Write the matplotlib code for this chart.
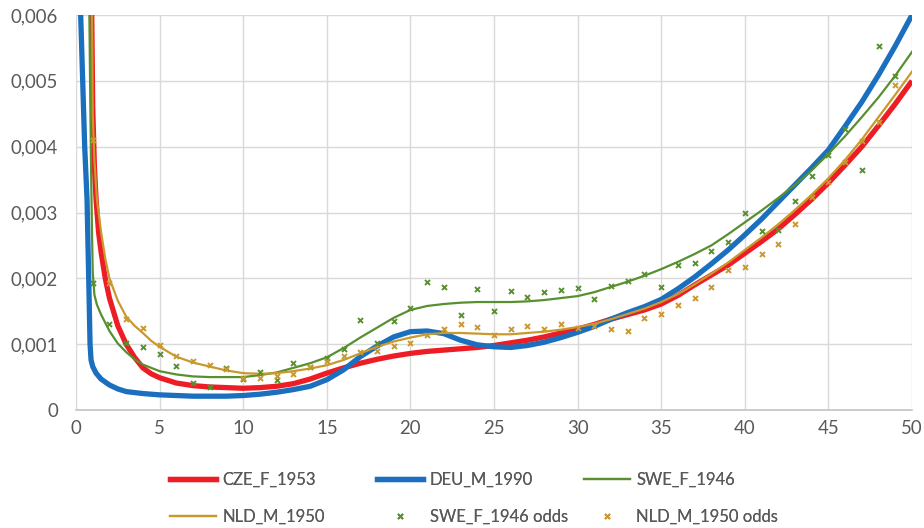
import matplotlib
matplotlib.use("Agg")
import matplotlib.pyplot as plt
from matplotlib.ticker import FuncFormatter, MultipleLocator
from matplotlib.lines import Line2D

plt.rcParams['font.family'] = ['Lato', 'DejaVu Sans']

# fitted curves (x, value)
cze_x = [0.9, 0.95, 1.0, 1.1, 1.2, 1.35, 1.5, 1.75, 2, 2.5, 3, 3.5, 4, 4.5, 5, 6, 7, 8, 9, 10,
         11, 12, 13, 14, 15, 16, 17, 18, 19, 20, 21, 22, 23, 24, 25, 26, 27, 28, 29, 30,
         31, 32, 33, 34, 35, 36, 37, 38, 39, 40, 41, 42, 43, 44, 45, 46, 47, 48, 49, 50]
cze_y = [0.0068, 0.0058, 0.0046, 0.0037, 0.0032, 0.0027, 0.0024, 0.0020, 0.0017, 0.00128, 0.0010,
         0.0008, 0.00064, 0.00055, 0.00049, 0.00041, 0.00037, 0.00035, 0.00034, 0.00033,
         0.00034, 0.00036, 0.0004, 0.00047, 0.00056, 0.00064, 0.00071, 0.00077, 0.00082, 0.00086,
         0.00089, 0.00091, 0.00093, 0.00095, 0.00098, 0.00102, 0.00106, 0.00111, 0.00117, 0.00123,
         0.0013, 0.00138, 0.00145, 0.00152, 0.00161, 0.00174, 0.0019, 0.00205, 0.0022, 0.00238,
         0.00256, 0.00275, 0.00297, 0.0032, 0.00345, 0.00372, 0.004, 0.00432, 0.00465, 0.005]

deu_x = [0.26, 0.28, 0.4, 0.52, 0.66, 0.76, 0.84, 0.9, 1.0, 1.2, 1.5, 2, 2.5, 3, 4, 5, 6, 7, 8, 9, 10,
         11, 12, 13, 14, 15, 16, 17, 18, 19, 20, 21, 22, 23, 24, 25, 26, 27, 28, 29, 30,
         31, 32, 33, 34, 35, 36, 37, 38, 39, 40, 41, 42, 43, 44, 45, 46, 47, 48, 49, 50]
deu_y = [0.0068, 0.006, 0.005, 0.004, 0.0032, 0.002, 0.001, 0.00076, 0.00066, 0.00056, 0.00047,
         0.00038, 0.00032, 0.00028, 0.00025, 0.00023, 0.00022, 0.00021, 0.00021, 0.00021, 0.00022,
         0.00024, 0.00027, 0.00031, 0.00036, 0.00046, 0.00061, 0.00081, 0.00097, 0.00111, 0.00119,
         0.0012, 0.00116, 0.00106, 0.00099, 0.00096, 0.00095, 0.00098, 0.00103, 0.0011, 0.00118,
         0.00127, 0.00138, 0.00148, 0.00157, 0.00168, 0.00184, 0.00202, 0.00222, 0.00243, 0.00266,
         0.0029, 0.00316, 0.00342, 0.00368, 0.00395, 0.00431, 0.00468, 0.00509, 0.00553, 0.006]

swe_x = [0.76, 0.8, 0.85, 0.9, 0.95, 1.0, 1.1, 1.25, 1.5, 2, 2.5, 3, 3.5, 4, 5, 6, 7, 8, 9, 10,
         11, 12, 13, 14, 15, 16, 17, 18, 19, 20, 21, 22, 23, 24, 25, 26, 27, 28, 29, 30,
         31, 32, 33, 34, 35, 36, 37, 38, 39, 40, 41, 42, 43, 44, 45, 46, 47, 48, 49, 50]
swe_y = [0.0068, 0.006, 0.0048, 0.0037, 0.0028, 0.0021, 0.00175, 0.0016, 0.00145, 0.0012, 0.00101,
         0.00088, 0.00077, 0.00069, 0.00059, 0.00054, 0.00051, 0.0005, 0.0005, 0.0005,
         0.00053, 0.00057, 0.00064, 0.00071, 0.0008, 0.00094, 0.0011, 0.00125, 0.0014, 0.00152,
         0.00158, 0.00161, 0.00163, 0.00164, 0.00164, 0.00164, 0.00165, 0.00167, 0.0017, 0.00173,
         0.00179, 0.00187, 0.00195, 0.00204, 0.00214, 0.00225, 0.00237, 0.0025, 0.00267, 0.00285,
         0.00303, 0.00322, 0.00342, 0.00364, 0.00389, 0.00416, 0.00445, 0.00475, 0.00508, 0.00544]

nld_x = [0.92, 0.97, 1.0, 1.1, 1.25, 1.5, 1.75, 2, 2.5, 3, 3.5, 4, 4.5, 5, 6, 7, 8, 9, 10,
         11, 12, 13, 14, 15, 16, 17, 18, 19, 20, 21, 22, 23, 24, 25, 26, 27, 28, 29, 30,
         31, 32, 33, 34, 35, 36, 37, 38, 39, 40, 41, 42, 43, 44, 45, 46, 47, 48, 49, 50]
nld_y = [0.0068, 0.0057, 0.0045, 0.0038, 0.0032, 0.0027, 0.0023, 0.002, 0.00166, 0.00142, 0.00128,
         0.00117, 0.00105, 0.00096, 0.00081, 0.00072, 0.00066, 0.0006, 0.00056,
         0.00055, 0.00056, 0.00059, 0.00063, 0.00068, 0.00076, 0.00086, 0.00096, 0.00104, 0.0011,
         0.00115, 0.00117, 0.00117, 0.00116, 0.00115, 0.00115, 0.00117, 0.00119, 0.00122, 0.00126,
         0.00131, 0.00138, 0.00146, 0.00154, 0.00164, 0.00176, 0.00191, 0.00207, 0.00224, 0.00243,
         0.00262, 0.00282, 0.00304, 0.00327, 0.00352, 0.0038, 0.00411, 0.00445, 0.00479, 0.00514]

# observed odds, ages 1..49
ages = list(range(1, 50))
swe_odds = [0.00193, 0.00131, 0.00102, 0.00096, 0.00085, 0.00067, 0.00041, 0.00035, 0.00064, 0.00047,
            0.00058, 0.00046, 0.00071, 0.00066, 0.00079, 0.00093, 0.00137, 0.00102, 0.00135, 0.00155,
            0.00195, 0.00187, 0.00144, 0.00184, 0.0015, 0.00181, 0.00172, 0.0018, 0.00182, 0.00186,
            0.00168, 0.00188, 0.00196, 0.00207, 0.00187, 0.0022, 0.00224, 0.00242, 0.00255, 0.003,
            0.00272, 0.00273, 0.00318, 0.00355, 0.00388, 0.00427, 0.00365, 0.00553, 0.00508]
nld_odds = [0.0041, 0.00193, 0.00138, 0.00125, 0.00099, 0.00082, 0.00075, 0.00069, 0.00063, 0.00048,
            0.00049, 0.00052, 0.00055, 0.00066, 0.00074, 0.00082, 0.00088, 0.00089, 0.00097, 0.00102,
            0.00114, 0.00123, 0.0013, 0.00126, 0.00114, 0.00123, 0.00128, 0.00123, 0.0013, 0.00125,
            0.00127, 0.00123, 0.0012, 0.0014, 0.00146, 0.0016, 0.0017, 0.00187, 0.00213, 0.00217,
            0.00237, 0.00252, 0.00283, 0.00324, 0.00347, 0.00377, 0.00409, 0.00438, 0.00494]

RED = '#EE1C25'
BLUE = '#1A6FBE'
GREEN = '#58902F'
GOLD = '#C9992E'
TXT = '#595959'

fig = plt.figure(figsize=(9.24, 5.28), dpi=100)
ax = fig.add_axes([76 / 924, 1 - 410 / 528, (912 - 76) / 924, (410 - 15) / 528])

ax.plot(cze_x, cze_y, color=RED, lw=3.8, solid_capstyle='butt', zorder=3)
ax.plot(deu_x, deu_y, color=BLUE, lw=3.8, solid_capstyle='butt', zorder=4)
ax.plot(swe_x, swe_y, color=GREEN, lw=1.6, zorder=5)
ax.plot(nld_x, nld_y, color=GOLD, lw=1.6, zorder=6)
ax.plot(ages, swe_odds, ls='none', marker='x', ms=3.6, mew=1.4, color=GREEN, zorder=7)
ax.plot(ages, nld_odds, ls='none', marker='x', ms=3.6, mew=1.4, color=GOLD, zorder=8)

ax.set_xlim(0, 50)
ax.set_ylim(0, 0.006)
ax.xaxis.set_major_locator(MultipleLocator(5))
ax.yaxis.set_major_locator(MultipleLocator(0.001))
ax.yaxis.set_major_formatter(FuncFormatter(lambda v, p: '0' if abs(v) < 1e-9 else f'{v:.3f}'.replace('.', ',')))
ax.grid(True, color='#D9D9D9', lw=1.0)
ax.set_axisbelow(True)
for s in ['top', 'right', 'left']:
    ax.spines[s].set_visible(False)
ax.spines['bottom'].set_color('#C4C4C4')
ax.spines['bottom'].set_linewidth(1.2)
ax.tick_params(axis='both', length=0, labelsize=13.4, labelcolor=TXT)
ax.tick_params(axis='y', pad=13)
ax.tick_params(axis='x', pad=7)

# legend, laid out like Excel: 3 columns x 2 rows
entries = [
    (Line2D([], [], color=RED, lw=3.8), 'CZE_F_1953'),
    (Line2D([], [], color=BLUE, lw=3.8), 'DEU_M_1990'),
    (Line2D([], [], color=GREEN, lw=1.6), 'SWE_F_1946'),
    (Line2D([], [], color=GOLD, lw=1.6), 'NLD_M_1950'),
    (Line2D([], [], ls='none', marker='x', ms=3.6, mew=1.4, color=GREEN), 'SWE_F_1946 odds'),
    (Line2D([], [], ls='none', marker='x', ms=3.6, mew=1.4, color=GOLD), 'NLD_M_1950 odds'),
]
col_x = [170, 377, 584]
row_y = [480, 517]
for i, (h, lab) in enumerate(entries):
    lx = col_x[i % 3] / 924
    ly = 1 - row_y[i // 3] / 528
    leg = fig.legend([h], [lab], loc='center left', bbox_to_anchor=(lx, ly), frameon=False,
                     borderpad=0, borderaxespad=0, handlelength=2.75, handletextpad=0.4,
                     numpoints=1, fontsize=12, labelcolor=TXT)
    fig.add_artist(leg)

fig.savefig('out.png', dpi=100)
